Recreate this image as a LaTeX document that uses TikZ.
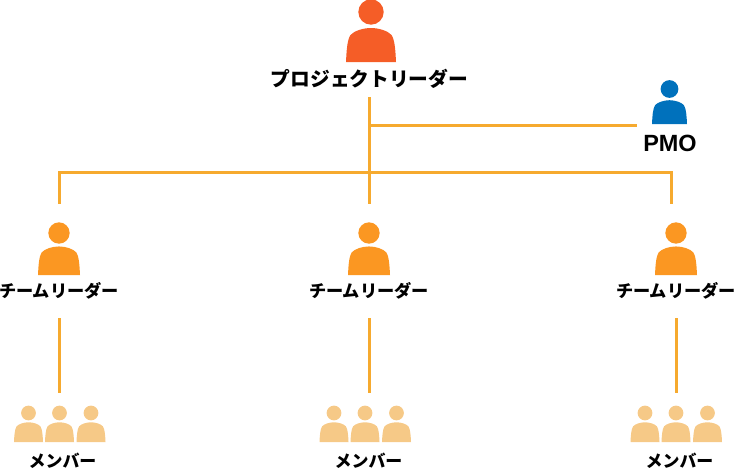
\documentclass[tikz,border=0pt]{standalone}
\usepackage{fontspec}
\setmainfont{Liberation Sans}
\newfontfamily\jpfont{Noto Sans CJK JP}
\usetikzlibrary{positioning}
\definecolor{leadcol}{RGB}{245,93,39}
\definecolor{teamcol}{RGB}{251,151,34}
\definecolor{membercol}{RGB}{246,201,135}
\definecolor{pmocol}{RGB}{0,113,188}
\definecolor{linkcol}{RGB}{246,170,47}
\tikzset{
  person/.pic={
    \fill (0,-50) circle (12.7);
    \fill (-25,0) .. controls (-24.5,-10) and (-24,-22) .. (-20.5,-27) .. controls (-17,-31) and (-8,-34) .. (0,-34) .. controls (8,-34) and (17,-31) .. (20.5,-27) .. controls (24,-22) and (24.5,-10) .. (25,0) -- cycle;
  },
  link/.style={draw=linkcol, line width=2.25pt},
  leadlabel/.style={font=\jpfont\bfseries\fontsize{14.8}{16}\selectfont, inner sep=0pt, text height=11pt, text depth=3.5pt, outer ysep=4.75pt},
  teamlabel/.style={font=\jpfont\bfseries\fontsize{12.9}{14}\selectfont, inner sep=0pt, text height=10pt, text depth=3pt, outer ysep=12.25pt},
  memberlabel/.style={font=\jpfont\bfseries\fontsize{12.7}{14}\selectfont, inner sep=0pt},
}
\begin{document}
\begin{tikzpicture}[x=0.75pt, y=-0.75pt]
\useasboundingbox (0,0) rectangle (735,468);

% icons
\pic [leadcol] at (371,62) {person};
\pic [pmocol, scale=0.7] at (669.5,124) {person};
\pic [teamcol, scale=0.84] at (59,275) {person};
\pic [teamcol, scale=0.84] at (369,275) {person};
\pic [teamcol, scale=0.84] at (676,275) {person};

\pic [membercol, scale=0.58] at (28.5,442) {person};
\pic [membercol, scale=0.58] at (59.5,442) {person};
\pic [membercol, scale=0.58] at (91,442) {person};
\pic [membercol, scale=0.58] at (334,442) {person};
\pic [membercol, scale=0.58] at (365,442) {person};
\pic [membercol, scale=0.58] at (396.5,442) {person};
\pic [membercol, scale=0.58] at (645,442) {person};
\pic [membercol, scale=0.58] at (676,442) {person};
\pic [membercol, scale=0.58] at (707.5,442) {person};

% labels
\node [leadlabel] (lead) at (369.5,81) {プロジェクトリーダー};
\node [font=\bfseries\fontsize{17.6}{19}\selectfont, inner sep=0pt] (pmo) at (670,143) {PMO};
\node [teamlabel] (teamA) at (59,293) {チームリーダー};
\node [teamlabel] (teamB) at (369,293) {チームリーダー};
\node [teamlabel] (teamC) at (676,293) {チームリーダー};
\node [memberlabel] (memberA) at (62.5,461) {メンバー};
\node [memberlabel] (memberB) at (368.5,461) {メンバー};
\node [memberlabel] (memberC) at (679.5,461) {メンバー};

% connectors
\coordinate (pmohub) at (369,125);
\coordinate (pmoend) at (637,125);
\coordinate (busA) at (59,172);
\coordinate (busC) at (671,172);
\coordinate (topA) at (59,204);
\coordinate (topB) at (369,204);
\coordinate (topC) at (671,204);
\coordinate (endA) at (59,393);
\coordinate (endB) at (369,393);
\coordinate (endC) at (676,393);

\draw [link] (lead.south -| topB) -- (topB);
\draw [link] (pmohub) -- (pmoend);
\draw [link] (topA) -- (busA) -- (busC) -- (topC);
\draw [link] (teamA.south) -- (endA);
\draw [link] (teamB.south) -- (endB);
\draw [link] (teamC.south) -- (endC);
\end{tikzpicture}
\end{document}
